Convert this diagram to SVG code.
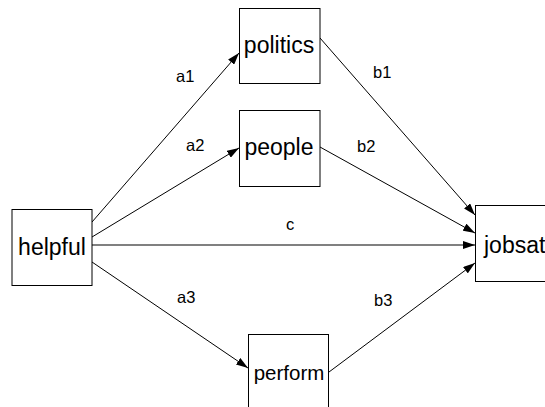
<svg xmlns="http://www.w3.org/2000/svg" width="545" height="407" viewBox="0 0 545 407">
<style>
.box{fill:#fff;stroke:#000;stroke-width:1}
.nt{font-family:"Liberation Sans",Arial,sans-serif;font-size:23px;fill:#000;text-anchor:middle}
.lb{font-family:"Liberation Sans",Arial,sans-serif;font-size:16.5px;fill:#000}
.ln{stroke:#000;stroke-width:1;fill:none;marker-end:url(#ah)}
</style>
<defs>
<marker id="ah" viewBox="0 0 12 8" refX="12" refY="4" markerWidth="12" markerHeight="8" markerUnits="userSpaceOnUse" orient="auto">
<path d="M0,0 L12,4 L0,8 Z" fill="#000"/>
</marker>
</defs>
<rect width="545" height="407" fill="#fff"/>
<g id="connectors">
<line class="ln" x1="92" y1="222" x2="239" y2="53"/>
<line class="ln" x1="92" y1="237" x2="239" y2="148"/>
<line class="ln" x1="92" y1="245" x2="475" y2="245" style="stroke:#808080;stroke-width:2"/>
<line class="ln" x1="92" y1="262" x2="248" y2="368"/>
<line class="ln" x1="320" y1="38" x2="475" y2="215"/>
<line class="ln" x1="320" y1="147" x2="475" y2="233"/>
<line class="ln" x1="329" y1="372" x2="475" y2="263"/>
<text class="lb" x="176" y="82">a1</text>
<text class="lb" x="186" y="151">a2</text>
<text class="lb" x="177" y="303">a3</text>
<text class="lb" x="373" y="78">b1</text>
<text class="lb" x="357" y="152">b2</text>
<text class="lb" x="374" y="306">b3</text>
<text class="lb" x="286" y="230">c</text>
</g>
<g id="helpful"><rect class="box" x="12" y="209.5" width="80" height="76"/><text class="nt" x="52" y="255">helpful</text></g>
<g id="politics"><rect class="box" x="239.5" y="8.5" width="80.5" height="75"/><text class="nt" x="279" y="53">politics</text></g>
<g id="people"><rect class="box" x="239.5" y="110.5" width="80.5" height="76"/><text class="nt" x="279" y="155">people</text></g>
<g id="perform"><rect class="box" x="248.5" y="334.5" width="80" height="80"/><text class="nt" x="289" y="380" style="font-size:20.5px">perform</text></g>
<g id="jobsat"><rect class="box" x="475.5" y="205.5" width="80" height="76"/><text class="nt" x="484" y="253" style="text-anchor:start">jobsat</text></g>
</svg>
